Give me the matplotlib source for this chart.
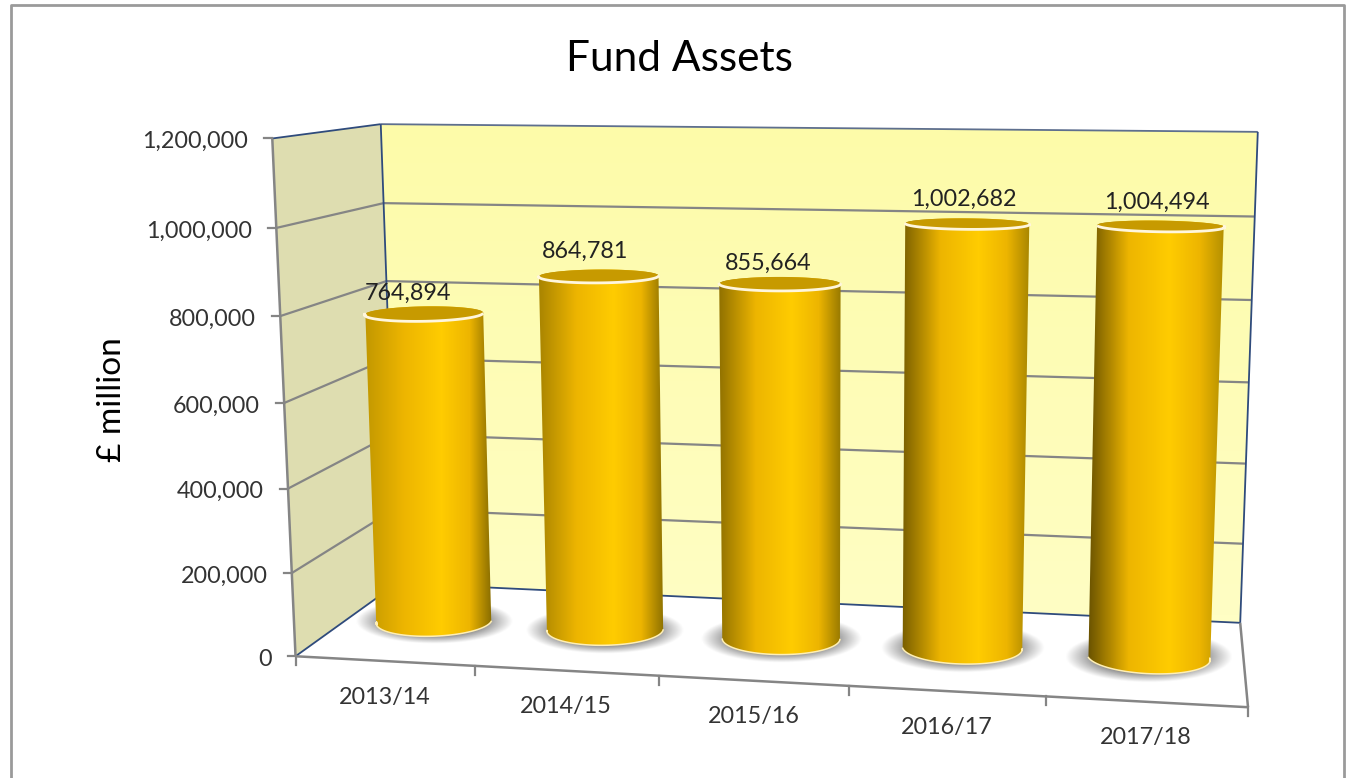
#! /usr/bin/env python3

import matplotlib
matplotlib.use('Agg')
import matplotlib.pyplot as plt
from matplotlib.colors import LinearSegmentedColormap
from matplotlib.patches import Polygon
import numpy as np

plt.rcParams['font.family'] = ['Lato', 'DejaVu Sans']

TITLE = 'Fund Assets'
YLABEL = '£ million'
YEARS = ['2013/14', '2014/15', '2015/16', '2016/17', '2017/18']
ASSETS = [764894, 864781, 855664, 1002682, 1004494]
Y_TICKS = [0, 200000, 400000, 600000, 800000, 1000000, 1200000]

W, H = 1350, 778
YMAX = Y_TICKS[-1]
N = len(YEARS)

# calibration of the 3d box: (category, value, depth) -> pixel
CALIB = [
    ((0, 0, 0), (295, 656)),
    ((0, 600000, 0), (284, 402)),
    ((0, 1200000, 0), (273, 139)),
    ((0, 0, 1), (398, 584)),
    ((0, 1200000, 1), (380, 124)),
    ((5, 0, 1), (1240, 622)),
    ((5, 1200000, 1), (1258, 132)),
    ((5, 0, 0), (1248, 708)),
]
RX = 0.325
RZ = 0.20
ZC = 0.51
LEFT_SHADE = [0.80, 0.70, 0.60, 0.50, 0.42]
RIGHT_SHADE = [0.52, 0.56, 0.60, 0.66, 0.70]
LABEL_DX = [-16, -14, -12, -3, -4]
LABEL_DY = [-20, -25, -20, -24, -24]


def fit_camera():
    rows, rhs = [], []
    for (x, v, z), (u, w) in CALIB:
        v = v / YMAX
        rows.append([x, v, z, 1, 0, 0, 0, 0, -u * x, -u * v, -u * z])
        rhs.append(u)
        rows.append([0, 0, 0, 0, x, v, z, 1, -w * x, -w * v, -w * z])
        rhs.append(w)
    p = np.linalg.lstsq(np.array(rows, float), np.array(rhs, float), rcond=None)[0]
    return np.append(p, 1).reshape(3, 4)


CAM = fit_camera()


def project(x, v, z):
    x, v, z = np.broadcast_arrays(np.asarray(x, float), np.asarray(v, float), np.asarray(z, float))
    q = np.stack([x, v / YMAX, z, np.ones_like(x)])
    a, b, c = CAM @ q.reshape(4, -1)
    return (a / c).reshape(x.shape), (b / c).reshape(x.shape)


def line(ax, p0, p1, color, lw, zorder=2):
    u, w = project(*zip(p0, p1))
    ax.plot(u, w, color=color, lw=lw, zorder=zorder, solid_capstyle='butt')


def quad(points):
    u, w = project(*zip(*points))
    return np.column_stack([u, w])


def circle(i, v):
    t = np.linspace(0, 2 * np.pi, 120)
    return project(i + 0.5 + RX * np.cos(t), v, ZC + RZ * np.sin(t))


def draw_walls(ax):
    back = quad([(0, 0, 1), (N, 0, 1), (N, YMAX, 1), (0, YMAX, 1)])
    side = quad([(0, 0, 0), (0, 0, 1), (0, YMAX, 1), (0, YMAX, 0)])
    cmap = LinearSegmentedColormap.from_list('wall', ['#FDFBA9', '#FFFEC4'])
    img = ax.imshow(np.linspace(0, 1, 64)[:, None], cmap=cmap, aspect='auto', zorder=1,
                    extent=(back[:, 0].min(), back[:, 0].max(), back[:, 1].max(), back[:, 1].min()))
    img.set_clip_path(Polygon(back, transform=ax.transData))
    ax.add_patch(Polygon(side, facecolor='#DEDDB0', edgecolor='none', zorder=1))

    for val in Y_TICKS[1:-1]:
        line(ax, (0, val, 0), (0, val, 1), '#858585', 1.6)
        line(ax, (0, val, 1), (N, val, 1), '#858585', 1.6)

    navy = '#2F4B7C'
    line(ax, (0, YMAX, 0), (0, YMAX, 1), navy, 1.3)
    line(ax, (0, YMAX, 1), (N, YMAX, 1), '#5E6F8E', 1.3)
    line(ax, (0, 0, 1), (0, YMAX, 1), navy, 1.3)
    line(ax, (N, 0, 1), (N, YMAX, 1), navy, 1.3)
    line(ax, (0, 0, 1), (N, 0, 1), navy, 1.3)
    line(ax, (0, 0, 0), (0, 0, 1), navy, 1.3)
    line(ax, (0, 0, 0), (0, YMAX, 0), '#858585', 1.8)
    line(ax, (0, 0, 0), (N, 0, 0), '#858585', 1.8)
    line(ax, (N, 0, 0), (N, 0, 1), '#858585', 1.8)


def draw_axes_text(ax):
    for val in Y_TICKS:
        u, w = project(0, val, 0)
        ax.plot([u - 8, u], [w, w], color='#858585', lw=1.6, zorder=2)
        ax.text(u - 24, w + 3, f'{val:,}', ha='right', va='center', fontsize=16.8, color='#333333')
    for i in range(N + 1):
        u, w = project(i, 0, 0)
        ax.plot([u, u], [w, w + 9], color='#858585', lw=1.6, zorder=2)
    for i, year in enumerate(YEARS):
        u, w = project(i + 0.5, 0, 0)
        ax.text(u, w + 36, year, ha='center', va='center', fontsize=16.8, color='#333333')
    ax.text(679, 59, TITLE, ha='center', va='center', fontsize=30.5, color='black')
    ax.text(112, 400, YLABEL, rotation=90, ha='center', va='center', fontsize=24, color='black')


def draw_shadow(ax, i):
    u, w = circle(i, 0)
    cu, cw = (u.min() + u.max()) / 2, (w.min() + w.max()) / 2
    ru, rw = (u.max() - u.min()) / 2 * 1.3, (w.max() - w.min()) / 2 * 1.45
    gu, gw = np.meshgrid(np.linspace(-1.15, 1.15, 120), np.linspace(-1.15, 1.15, 80))
    r = np.hypot(gu, gw)
    rgba = np.zeros(r.shape + (4,))
    rgba[..., :3] = 0.42
    rgba[..., 3] = np.clip((1.05 - r) / 0.4, 0, 1) * 0.85
    ax.imshow(rgba, aspect='auto', zorder=3, interpolation='bilinear',
              extent=(cu - 1.15 * ru, cu + 1.15 * ru, cw + 1.15 * rw, cw - 1.15 * rw))


def draw_bar(ax, i, val):
    top_u, top_w = circle(i, val)
    base_u, base_w = circle(i, 0)
    top_mid = (top_w.min() + top_w.max()) / 2
    base_mid = (base_w.min() + base_w.max()) / 2

    # outline: back half of the top, front half of the base
    up = top_w <= top_mid
    low = base_w >= base_mid
    top_pts = sorted(zip(top_u[up], top_w[up]))
    base_pts = sorted(zip(base_u[low], base_w[low]), reverse=True)
    outline = Polygon(np.array(top_pts + base_pts), transform=ax.transData, closed=True)

    gold = np.array([1.0, 0.80, 0.0])
    mid = np.array([0.93, 0.71, 0.0])
    stops = [(0, gold * LEFT_SHADE[i] * np.array([0.95, 0.93, 1])), (0.3, mid), (0.6, gold),
             (0.82, mid), (1, gold * RIGHT_SHADE[i])]
    cmap = LinearSegmentedColormap.from_list(f'bar{i}', stops)
    u0 = min(top_u.min(), base_u.min())
    u1 = max(top_u.max(), base_u.max())
    img = ax.imshow(np.linspace(0, 1, 128)[None, :], cmap=cmap, aspect='auto', zorder=4,
                    extent=(u0, u1, base_w.max(), top_w.min()))
    img.set_clip_path(outline)

    ax.plot([p[0] for p in base_pts], [p[1] for p in base_pts], color='#FFEFB5', lw=1.1, zorder=5)
    ax.add_patch(Polygon(np.column_stack([top_u, top_w]), facecolor='#C79A00', edgecolor='none', zorder=5))
    front = top_w >= top_mid
    rim = sorted(zip(top_u[front], top_w[front]))
    ax.plot([p[0] for p in rim], [p[1] for p in rim], color='#FFF6DC', lw=2, zorder=6)

    u, w = project(i + 0.5, val, ZC)
    ax.text(u + LABEL_DX[i], w + LABEL_DY[i], f'{val:,}', ha='center', va='center',
            fontsize=16.8, color='#222222', zorder=7)


def main():
    fig = plt.figure(figsize=(W / 100, H / 100), dpi=100, facecolor='white')
    ax = fig.add_axes([0, 0, 1, 1])
    ax.set_xlim(0, W)
    ax.set_ylim(H, 0)
    ax.axis('off')

    # chart frame, runs off the bottom of the picture
    ax.plot([11, 11, 1344, 1344], [H + 5, 5, 5, H + 5], color='#9A9A9A', lw=2, zorder=1)

    draw_walls(ax)
    draw_axes_text(ax)
    for i, val in enumerate(ASSETS):
        draw_shadow(ax, i)
        draw_bar(ax, i, val)
    ax.set_xlim(0, W)
    ax.set_ylim(H, 0)
    fig.savefig('out.png', dpi=100)


if __name__ == '__main__':
    main()
